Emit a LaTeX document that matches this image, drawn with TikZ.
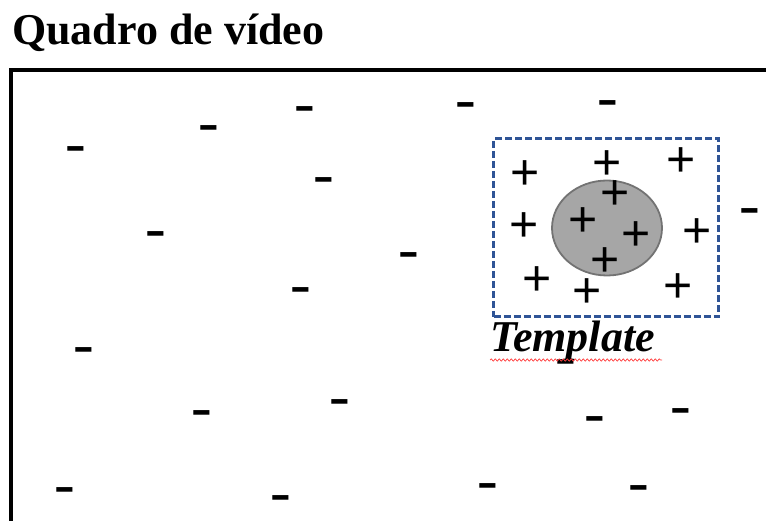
\documentclass[tikz,border=0pt]{standalone}
\usepackage{fontspec}
\setmainfont{Liberation Serif}
\setsansfont{Liberation Sans}
\usetikzlibrary{shapes.geometric,decorations.pathmorphing}
\definecolor{tblue}{RGB}{47,84,150}
\definecolor{blobfill}{RGB}{166,166,166}
\definecolor{blobline}{RGB}{115,115,115}
\begin{document}
\begin{tikzpicture}[x=1pt,y=-1pt,
  mnode/.style={font=\fontsize{62}{62}\selectfont, inner sep=0pt, anchor=base, yshift=-14pt},
  pnode/.style={font=\sffamily\fontsize{50}{50}\selectfont, inner sep=0pt},
  framebox/.style={draw=black, line width=4pt},
  tmplbox/.style={draw=tblue, line width=3pt, dash pattern=on 7pt off 3pt, minimum width=225pt, minimum height=178pt, inner sep=0pt},
  blobshape/.style={ellipse, draw=blobline, line width=1.8pt, fill=blobfill, minimum width=110pt, minimum height=95pt, inner sep=0pt},
  squiggle/.style={draw=red!75, line width=0.7pt, decorate, decoration={snake, segment length=4pt, amplitude=1.1pt}}]
\useasboundingbox (0,0) rectangle (766,521);
\clip (0,0) rectangle (766,521);
% title
\node (title) [anchor=base west, inner sep=0pt, font=\bfseries\fontsize{44}{44}\selectfont] at (12,45) {Quadro de vídeo};
% frame
\draw[framebox] (10.5,69.7) rectangle (800,560);
% template box and blob
\node (tmpl) [tmplbox] at (606,228) {};
\node (blob) [blobshape] at (607,228) {};
% minus marks
\foreach \x/\y [count=\i] in {76/150, 209/129, 305/110, 466/106, 608/104,
  324/181, 156/235, 409/256, 301/291, 750/212,
  84/351, 566/363, 202/413, 340/403, 595/419, 681/411,
  65/490, 281/498, 488/486, 639/488}
  \node (m\i) [mnode] at (\x,\y) {-};
% plus marks
\foreach \x/\y [count=\i] in {525/175, 607/165, 681/162, 615/195,
  524/227, 583/222, 636/236, 697/233, 605/262,
  537/281, 587/293, 678/288}
  \node (p\i) [pnode] at (\x,\y) {+};
% template label
\node (label) [anchor=base west, inner sep=0pt, font=\bfseries\itshape\fontsize{44}{44}\selectfont] at (490,352) {Template};
\coordinate (sqa) at (490,360);
\coordinate (sqb) at (662,360);
\draw[squiggle] (sqa) -- (sqb);
\end{tikzpicture}
\end{document}
